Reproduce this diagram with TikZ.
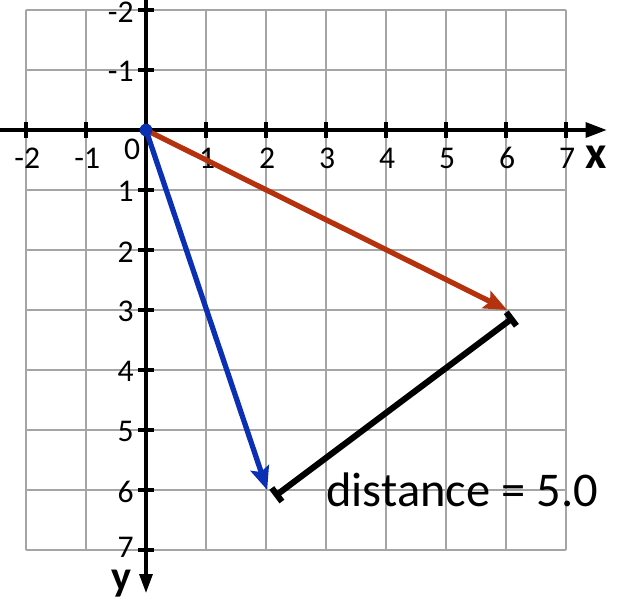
\documentclass[tikz,border=0pt]{standalone}
\usepackage{fontspec}
\setmainfont{Carlito}
\usetikzlibrary{arrows.meta}
\definecolor{vecred}{RGB}{180,50,14}
\definecolor{vecblue}{RGB}{12,48,180}
\definecolor{gridgray}{RGB}{165,165,165}
\begin{document}
\begin{tikzpicture}[x=1cm,y=-1cm,
  gridline/.style={gridgray,line width=1pt},
  axisline/.style={black,line width=1.7pt},
  ticklbl/.style={font=\fontsize{15}{15}\selectfont,inner sep=0pt},
  axname/.style={font=\bfseries\fontsize{22}{22}\selectfont,inner sep=0pt},
  vec/.style={line width=2.5pt,-{Stealth[length=11pt,width=9pt,inset=2pt]}},
  distline/.style={black,line width=2.9pt,{Bar[width=8pt,line width=2.9pt]}-{Bar[width=8pt,line width=2.9pt]}},
  origindot/.style={circle,fill=vecblue,inner sep=0pt,minimum size=6pt}
]
\useasboundingbox (-2.4333,-2.1667) rectangle (8.0667,7.85);
% grid
\draw[gridline] (-2,-2) grid (7,7);
% axes
\coordinate (xs) at (-2.4333,0);
\coordinate (xe) at (7.68,0);
\coordinate (ys) at (0,-2.1667);
\coordinate (ye) at (0,7.72);
\draw[axisline,-{Triangle[length=10pt,width=7pt]}] (xs) -- (xe);
\draw[axisline,-{Triangle[length=9pt,width=6pt]}] (ys) -- (ye);
% ticks
\foreach \i in {-2,...,7} {
  \draw[axisline] (\i,-0.13) -- (\i,0.13);
  \draw[axisline] (-0.13,\i) -- (0.13,\i);
}
% tick labels
\foreach \i in {-2,-1,1,2,3,4,5,6,7} {
  \node[ticklbl] at (\i+0.02,0.47) {\i};
}
\foreach \i in {-2,-1,1,2,3,4,5,6} {
  \node[ticklbl,anchor=east] at (-0.2,\i+0.03) {\i};
}
\node[ticklbl,anchor=east] (yseven) at (-0.2,6.96) {7};
\node[ticklbl] (zero) at (-0.23,0.32) {0};
\node[axname] (xname) at (7.5,0.46) {x};
\node[axname,anchor=base,font=\bfseries\fontsize{20}{20}\selectfont] (yname) at (-0.41,7.67) {y};
% vectors
\coordinate (O) at (0,0);
\coordinate (A) at (6.02,3);
\coordinate (B) at (2.02,6);
\draw[vec,vecred] (O) -- (A);
\draw[vec,vecblue] (O) -- (B);
\node[origindot] (dot) at (O) {};
% distance
\coordinate (D1) at (2.14,6.11);
\coordinate (D2) at (6.13,3.12);
\draw[distline] (D1) -- (D2);
\node[font=\fontsize{23}{23}\selectfont,anchor=base west,inner sep=0pt] (dist) at (3.0,6.28) {distance = 5.0};
\end{tikzpicture}
\end{document}
